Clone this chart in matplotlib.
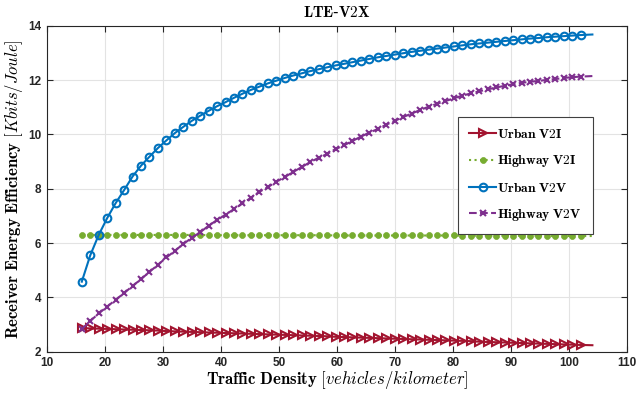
import numpy as np
import matplotlib
matplotlib.use("Agg")
import matplotlib.pyplot as plt

plt.rcParams['mathtext.fontset'] = 'cm'

# traffic density grid: 60 marker positions plus the line end point
density = np.append(np.linspace(16, 102, 60), 104)

urban_v2i = [2.87, 2.86, 2.85, 2.84, 2.83, 2.82, 2.81, 2.80, 2.79, 2.78,
             2.76, 2.75, 2.74, 2.73, 2.72, 2.71, 2.70, 2.69, 2.68, 2.67,
             2.66, 2.65, 2.64, 2.63, 2.62, 2.61, 2.60, 2.59, 2.58, 2.57,
             2.55, 2.54, 2.53, 2.52, 2.51, 2.50, 2.49, 2.48, 2.47, 2.46,
             2.45, 2.44, 2.43, 2.42, 2.41, 2.40, 2.39, 2.37, 2.36, 2.35,
             2.34, 2.33, 2.32, 2.31, 2.30, 2.29, 2.28, 2.27, 2.26, 2.25,
             2.24]

highway_v2i = [6.30, 6.30, 6.30, 6.30, 6.30, 6.30, 6.30, 6.30, 6.30, 6.30,
               6.30, 6.30, 6.30, 6.30, 6.30, 6.29, 6.29, 6.29, 6.29, 6.29,
               6.29, 6.29, 6.29, 6.29, 6.29, 6.29, 6.29, 6.29, 6.29, 6.29,
               6.28, 6.28, 6.28, 6.28, 6.28, 6.28, 6.28, 6.28, 6.28, 6.28,
               6.28, 6.28, 6.28, 6.28, 6.28, 6.27, 6.27, 6.27, 6.27, 6.27,
               6.27, 6.27, 6.27, 6.27, 6.27, 6.26, 6.26, 6.26, 6.26, 6.26,
               6.26]

urban_v2v = [4.58, 5.55, 6.30, 6.92, 7.47, 7.95, 8.45, 8.85, 9.18, 9.50,
             9.78, 10.05, 10.28, 10.50, 10.69, 10.87, 11.04, 11.19, 11.35, 11.50,
             11.64, 11.76, 11.88, 11.98, 12.08, 12.17, 12.25, 12.33, 12.40, 12.47,
             12.54, 12.60, 12.66, 12.72, 12.78, 12.84, 12.89, 12.94, 12.99, 13.04,
             13.08, 13.12, 13.16, 13.20, 13.24, 13.28, 13.32, 13.35, 13.38, 13.41,
             13.44, 13.47, 13.50, 13.53, 13.55, 13.58, 13.60, 13.62, 13.64, 13.66,
             13.68]

highway_v2v = [2.83, 3.13, 3.41, 3.66, 3.91, 4.16, 4.42, 4.67, 4.94, 5.20,
               5.47, 5.71, 5.97, 6.19, 6.40, 6.64, 6.85, 7.05, 7.25, 7.46,
               7.67, 7.89, 8.06, 8.26, 8.43, 8.62, 8.80, 8.98, 9.14, 9.28,
               9.46, 9.60, 9.76, 9.92, 10.07, 10.20, 10.36, 10.50, 10.64, 10.77,
               10.90, 11.02, 11.13, 11.23, 11.33, 11.43, 11.51, 11.59, 11.66, 11.73,
               11.79, 11.85, 11.90, 11.94, 11.97, 12.01, 12.04, 12.08, 12.11, 12.13,
               12.15]

xticks = np.arange(10, 111, 10)
yticks = np.arange(2, 15, 2)

fig = plt.figure(figsize=(6.4, 3.97), dpi=100)
ax = fig.add_axes([0.0734, 0.114, 0.9066, 0.821])

marks = list(range(60))

ax.plot(density, urban_v2i, color='#A2142F', linestyle='-', lw=1.5,
        marker='>', markersize=5.5, markerfacecolor='none', markeredgewidth=1.5,
        markevery=marks, label=r'$\mathbf{Urban\ V2I}$')
ax.plot(density, highway_v2i, color='#77AC30', linestyle=':', lw=1.5,
        marker='o', markersize=4.3, markeredgewidth=0.5,
        markevery=marks, label=r'$\mathbf{Highway\ V2I}$')
ax.plot(density, urban_v2v, color='#0072BD', linestyle='-', lw=1.5,
        marker='o', markersize=5.5, markerfacecolor='none', markeredgewidth=1.5,
        markevery=marks, label=r'$\mathbf{Urban\ V2V}$')
ax.plot(density, highway_v2v, color='#7E2F8E', linestyle='--', lw=1.5,
        marker='x', markersize=4, markeredgewidth=1.5,
        markevery=marks, label=r'$\mathbf{Highway\ V2V}$')

ax.set_xlim(10, 110)
ax.set_ylim(2, 14)
ax.set_xticks(xticks)
ax.set_yticks(yticks)
ax.tick_params(direction='in', length=4, width=0.8, top=True, right=True,
               labelsize=8.5, colors='#262626', pad=4)
for lab in ax.get_xticklabels() + ax.get_yticklabels():
    lab.set_fontfamily('Liberation Sans')
    lab.set_fontweight('bold')
for sp in ax.spines.values():
    sp.set_color('#262626')
    sp.set_linewidth(0.8)
ax.grid(True, color='#e3e3e3', linewidth=0.8)
ax.set_axisbelow(True)

ax.set_title(r'$\mathbf{LTE}$-$\mathbf{V2X}$', fontsize=11, pad=6)
ax.set_xlabel(r'$\mathbf{Traffic\ Density}\ [vehicles/kilometer]$', fontsize=12, labelpad=0)
ax.set_ylabel(r'$\mathbf{Receiver\ Energy\ Efficiency}\ [Kbits/Joule]$', fontsize=12, labelpad=2)

leg = ax.legend(loc='upper left', bbox_to_anchor=(0.709, 0.72), borderaxespad=0,
                fancybox=False, framealpha=1, edgecolor='#404040', handlelength=2.0,
                borderpad=0.8, labelspacing=0.92, handletextpad=0.1, fontsize=9.7)
leg.get_frame().set_linewidth(0.8)

fig.savefig('out.png', dpi=100)
